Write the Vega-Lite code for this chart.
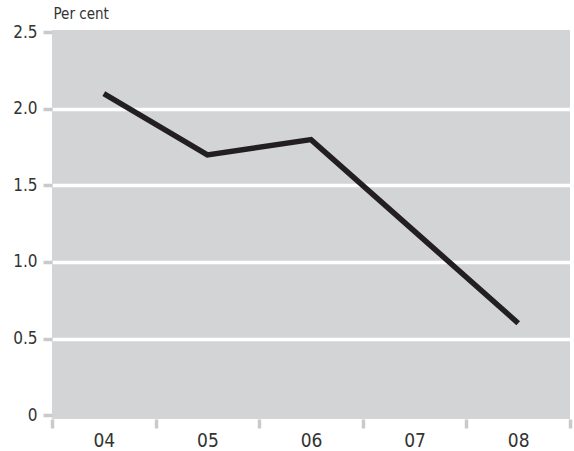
{
  "$schema": "https://vega.github.io/schema/vega-lite/v6.json",
  "width": 518,
  "height": 389,
  "autosize": {"type": "none"},
  "padding": {"left": 52, "top": 30, "right": 4, "bottom": 32},
  "background": "white",
  "config": {
    "view": {"fill": "#d3d4d6", "stroke": null},
    "font": "DejaVu Sans Condensed, Liberation Sans, sans-serif",
    "axis": {"tickColor": "#d3d4d6"}
  },
  "data": {
    "values": [
      {"year": "04", "value": 2.1},
      {"year": "05", "value": 1.7},
      {"year": "06", "value": 1.8},
      {"year": "07", "value": 1.2},
      {"year": "08", "value": 0.6}
    ]
  },
  "mark": {"type": "line", "color": "#231f20", "strokeWidth": 5.5, "strokeCap": "butt"},
  "encoding": {
    "x": {
      "field": "year",
      "type": "ordinal",
      "bandPosition": 0.5,
      "scale": {"type": "band", "paddingInner": 0, "paddingOuter": 0},
      "axis": {
        "title": null,
        "domain": false,
        "grid": false,
        "tickBand": "extent",
        "tickSize": 9,
        "tickWidth": 3.5,
        "tickColor": "#c9cacc",
        "labelAngle": 0,
        "labelFontSize": 19,
        "labelColor": "#333333",
        "labelPadding": 3
      }
    },
    "y": {
      "field": "value",
      "type": "quantitative",
      "scale": {"domain": [-0.026, 2.516], "nice": false, "zero": false},
      "axis": {
        "values": [0, 0.5, 1, 1.5, 2, 2.5],
        "labelExpr": "datum.value == 0 ? '0' : format(datum.value, '.1f')",
        "domain": false,
        "grid": true,
        "gridColor": {"condition": {"test": "datum.value > 0 && datum.value < 2.5", "value": "white"}, "value": null},
        "gridWidth": 3.5,
        "gridOpacity": 1,
        "tickSize": 9,
        "tickWidth": 3.5,
        "tickColor": "#c9cacc",
        "labelFontSize": 17,
        "labelColor": "#333333",
        "labelPadding": 6,
        "title": "Per cent",
        "titleAngle": 0,
        "titleAlign": "left",
        "titleBaseline": "bottom",
        "titleX": 1,
        "titleY": -9,
        "titleFontSize": 15,
        "titleFontWeight": "normal",
        "titleColor": "#333333"
      }
    }
  }
}
